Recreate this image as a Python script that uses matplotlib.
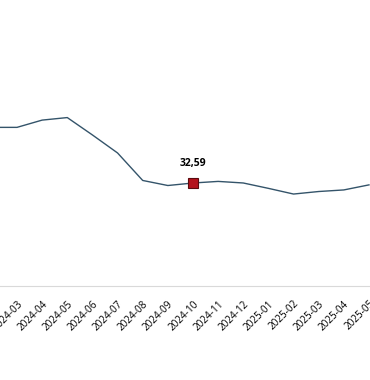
import numpy as np
import matplotlib.pyplot as plt

months = ['2024-02', '2024-03', '2024-04', '2024-05', '2024-06', '2024-07', '2024-08',
          '2024-09', '2024-10', '2024-11', '2024-12', '2025-01', '2025-02', '2025-03',
          '2025-04', '2025-05']
values = [50.2, 50.2, 52.5, 53.3, 47.8, 42.1, 33.4, 31.8, 32.59, 33.1, 32.6,
          30.9, 29.1, 29.9, 30.4, 32.0]
highlight = '2024-10'
highlight_label = '32,59'

plt.rcParams['font.family'] = ['Open Sans', 'DejaVu Sans']

fig = plt.figure(figsize=(3.7, 3.8), dpi=100)
ax = fig.add_axes([0, (380 - 286) / 380, 1, 286 / 380])

x = np.arange(len(months))
ax.plot(x, values, color='#34546a', linewidth=1.0)

hi = months.index(highlight)
ax.plot(x[hi], values[hi], marker='s', markersize=7, color='#b3121c',
        markeredgecolor='#5a0a0e', markeredgewidth=0.8, zorder=3)
ax.annotate(highlight_label, (x[hi], values[hi]), xytext=(0, 10),
            textcoords='offset points', ha='center', va='bottom',
            fontsize=7.5, fontweight='bold')

ax.set_xticks(x)
ax.set_xticklabels(months, rotation=45, ha='right', rotation_mode='anchor', fontsize=7.2)
ax.tick_params(axis='x', length=0, pad=9)
ax.set_yticks([])

# limits after the ticks, otherwise set_xticks widens them again
step = 25.14
ax.set_xlim(1 - 17 / step, 1 + (370 - 17) / step)
ax.set_ylim(0, 286 / 3.16)

for s in ['left', 'right', 'top']:
    ax.spines[s].set_visible(False)
ax.spines['bottom'].set_color('#d9d9d9')

fig.savefig('out.png', dpi=100)
